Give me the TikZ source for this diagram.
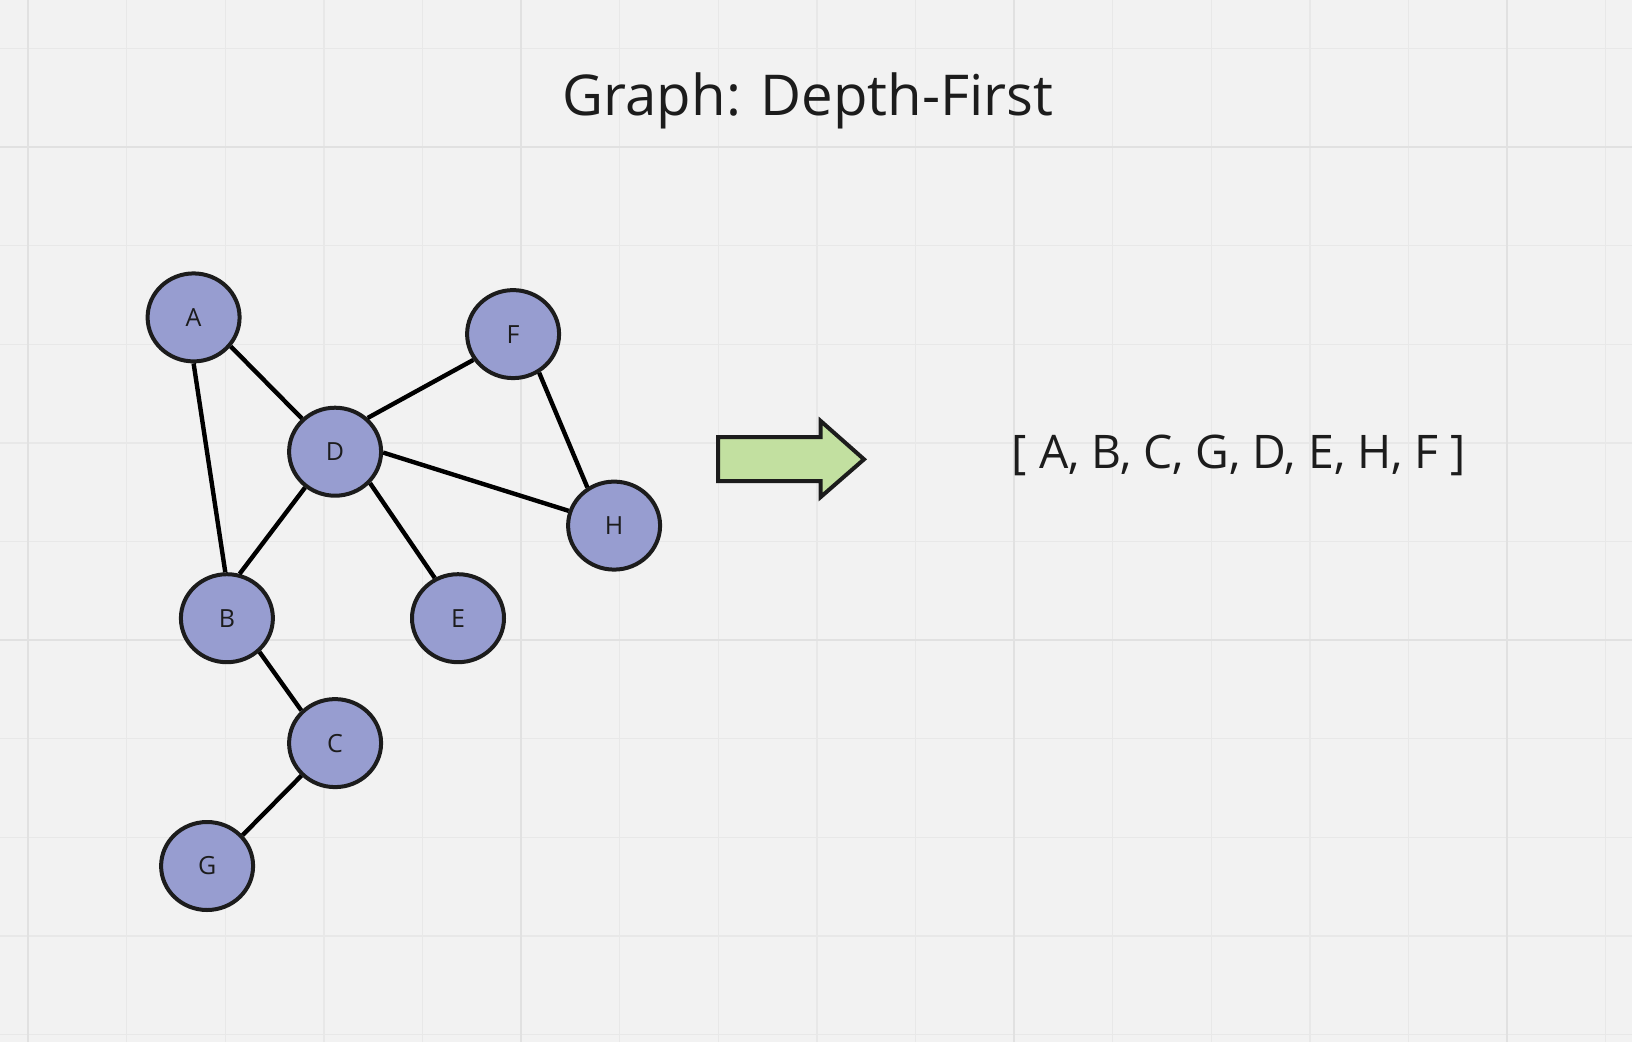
\documentclass[tikz,border=0pt]{standalone}
\usepackage{fontspec}
\setmainfont{Open Sans}
\usetikzlibrary{shapes.geometric}
\definecolor{bg}{HTML}{F2F2F2}
\definecolor{gridminor}{HTML}{E8E8E8}
\definecolor{gridmajor}{HTML}{E1E1E1}
\definecolor{nodefill}{HTML}{979DD0}
\definecolor{ink}{HTML}{1C1C1C}
\definecolor{arrowfill}{HTML}{C2E0A0}
\tikzset{
  vertex/.style={ellipse, draw=ink, fill=nodefill, line width=4pt, inner sep=0pt,
    minimum width=92pt, minimum height=88pt, font=\fontsize{25}{30}\selectfont, text=ink},
  edge/.style={draw=black, line width=4.4pt},
  minorline/.style={draw=gridminor, line width=1.4pt},
  majorline/.style={draw=gridmajor, line width=2.2pt}
}
\begin{document}
\begin{tikzpicture}[x=1pt,y=-1pt]
\fill[bg] (0,0) rectangle (1632,1042);
\useasboundingbox (0,0) rectangle (1632,1042);
% grid
\foreach \k in {0,...,16} {
  \pgfmathsetmacro{\xx}{28+98.6*\k}
  \draw[minorline] (\xx,0) -- (\xx,1042);
}
\foreach \k in {0,...,10} {
  \pgfmathsetmacro{\yy}{48.4+98.6*\k}
  \draw[minorline] (0,\yy) -- (1632,\yy);
}
\foreach \k in {0,5,10,15} {
  \pgfmathsetmacro{\xx}{28+98.6*\k}
  \draw[majorline] (\xx,0) -- (\xx,1042);
}
\foreach \k in {1,6} {
  \pgfmathsetmacro{\yy}{48.4+98.6*\k}
  \draw[majorline] (0,\yy) -- (1632,\yy);
}
% title
\node[font=\fontsize{56.3}{70}\selectfont, text=ink] (title) at (808,101) {Graph: Depth-First};
% vertices
\node[vertex] (A) at (193.6,317.4) {A};
\node[vertex] (F) at (513.1,334.1) {F};
\node[vertex] (D) at (335.1,451.7) {D};
\node[vertex] (H) at (614.1,525.6) {H};
\node[vertex] (B) at (226.9,618.2) {B};
\node[vertex] (E) at (458,618.2) {E};
\node[vertex] (C) at (335.1,743.1) {C};
\node[vertex] (G) at (207.1,866) {G};
% edges (attached at fixed points on the borders)
\draw[edge] (A.-38) -- (D.135);
\draw[edge] (A.-90) -- (B.92);
\draw[edge] (D.46) -- (F.213);
\draw[edge] (D.-1) -- (H.162);
\draw[edge] (D.230) -- (B.74);
\draw[edge] (D.-42) -- (E.120);
\draw[edge] (F.-56) -- (H.125);
\draw[edge] (B.-46) -- (C.136);
\draw[edge] (C.224) -- (G.41);
% arrow
\draw[draw=ink, fill=arrowfill, line width=4pt, line join=miter]
  (718,437) -- (820.7,437) -- (820.7,421) -- (864,459.3) -- (820.7,497) -- (820.7,481) -- (718,481) -- cycle;
% result
\node[font=\fontsize{46.3}{56}\selectfont, text=ink] (result) at (1239,455) {[ A, B, C, G, D, E, H, F ]};
\end{tikzpicture}
\end{document}
